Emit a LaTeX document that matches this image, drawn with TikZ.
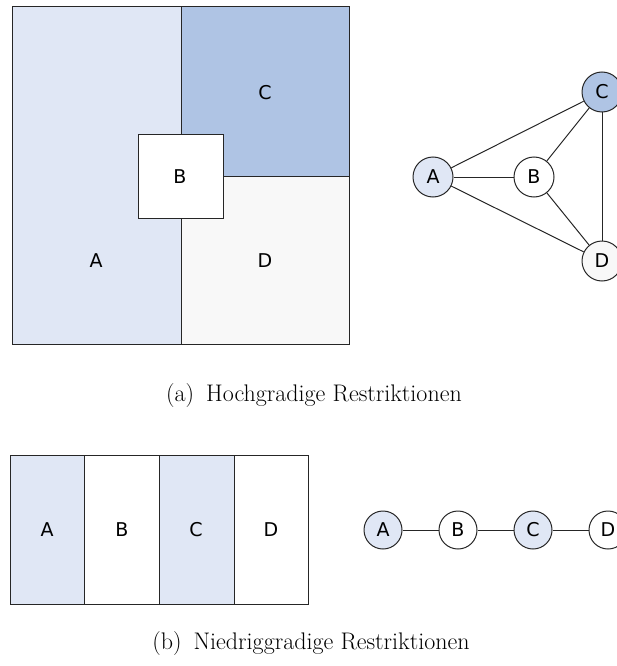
\documentclass[tikz,border=0pt]{standalone}
\usepackage{fontspec}
\newfontfamily\mapfont{DejaVu Sans}

\definecolor{paleblue}{HTML}{E0E7F5}
\definecolor{midblue}{HTML}{AFC4E4}
\definecolor{palegray}{HTML}{F8F8F8}

\tikzset{
  region/.style={draw=black!85, line width=1pt},
  letter/.style={font=\mapfont\fontsize{19}{19}\selectfont, inner sep=0pt},
  vertex/.style={circle, draw=black!85, line width=1pt, fill=white,
    minimum size=40pt, inner sep=0pt, font=\mapfont\fontsize{19}{19}\selectfont},
  edge/.style={draw=black!85, line width=1pt},
  caption/.style={anchor=base, inner sep=0pt, font=\fontsize{24}{28}\selectfont}
}

\begin{document}
\begin{tikzpicture}[x=1pt,y=-1pt]
  \useasboundingbox (0,0) rectangle (616,666);

  % Map with four regions, B in the middle
  \fill[paleblue] (12,7) rectangle (181,344);
  \fill[midblue] (181,7) rectangle (349,176);
  \fill[palegray] (181,176) rectangle (349,344);
  \draw[region] (12,7) rectangle (349,344);
  \draw[region] (181,7) -- (181,344);
  \draw[region] (181,176) -- (349,176);
  \draw[region, fill=white] (138,134) rectangle (223,218);

  \node[letter] (mA) at (96,261) {A};
  \node[letter] (mB) at (180,177) {B};
  \node[letter] (mC) at (265,93) {C};
  \node[letter] (mD) at (265,261) {D};

  % Its graph: every pair of regions touches
  \node[vertex, fill=paleblue] (gA) at (433,177) {A};
  \node[vertex] (gB) at (534,177) {B};
  \node[vertex, fill=midblue] (gC) at (602,92) {C};
  \node[vertex, fill=palegray] (gD) at (602,261) {D};

  \draw[edge] (gA) -- (gB);
  \draw[edge] (gA) -- (gC);
  \draw[edge] (gA) -- (gD);
  \draw[edge] (gB) -- (gC);
  \draw[edge] (gB) -- (gD);
  \draw[edge] (gC) -- (gD);

  \node[caption] (capA) at (314,401.5) {(a)\enspace Hochgradige Restriktionen};

  % Map with four strips side by side
  \fill[paleblue] (10,455) rectangle (84,604);
  \fill[paleblue] (159,455) rectangle (234,604);
  \draw[region] (10,455) rectangle (308,604);
  \foreach \x in {84,159,234}
    \draw[region] (\x,455) -- (\x,604);

  \node[letter] (sA) at (47,530) {A};
  \node[letter] (sB) at (122,530) {B};
  \node[letter] (sC) at (196,530) {C};
  \node[letter] (sD) at (271,530) {D};

  % Its graph: a simple path
  \node[vertex, minimum size=38pt, fill=paleblue] (pA) at (383,530) {A};
  \node[vertex, minimum size=38pt] (pB) at (458,530) {B};
  \node[vertex, minimum size=38pt, fill=paleblue] (pC) at (533,530) {C};
  \node[vertex, minimum size=38pt] (pD) at (608,530) {D};

  \draw[edge] (pA) -- (pB);
  \draw[edge] (pB) -- (pC);
  \draw[edge] (pC) -- (pD);

  \node[caption] (capB) at (311,649) {(b)\enspace Niedriggradige Restriktionen};

\end{tikzpicture}
\end{document}
